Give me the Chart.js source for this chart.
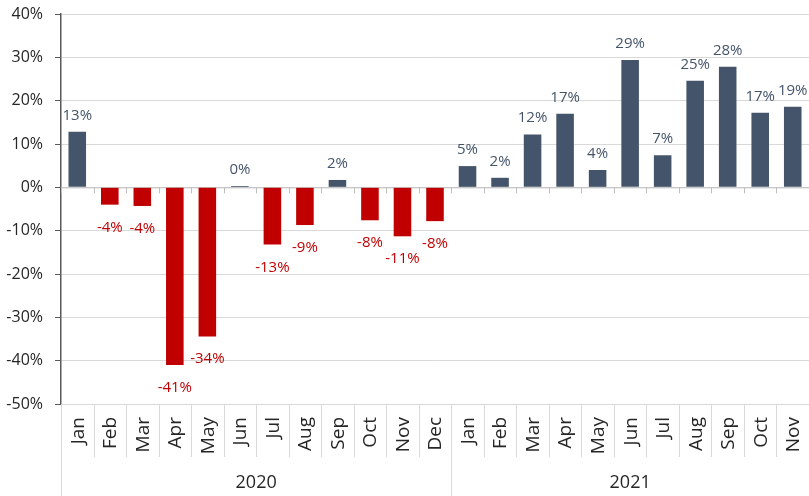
<!DOCTYPE html>
<html>
<head>
<meta charset="utf-8">
<script src="https://cdn.jsdelivr.net/npm/chart.js@4/dist/chart.umd.min.js"></script>
<style>
  html, body { margin: 0; padding: 0; background: #fff; }
  #wrap { width: 809px; height: 496px; }
</style>
</head>
<body>
<div id="wrap"><canvas id="chart" width="809" height="496"></canvas></div>
<script>
// monthly change, in percent
const months = ['Jan', 'Feb', 'Mar', 'Apr', 'May', 'Jun', 'Jul', 'Aug', 'Sep', 'Oct', 'Nov', 'Dec',
                'Jan', 'Feb', 'Mar', 'Apr', 'May', 'Jun', 'Jul', 'Aug', 'Sep', 'Oct', 'Nov'];
const years = ['2020', '2021'];
const monthsPerYear = [12, 11];
const values = [12.8, -4.0, -4.3, -41.0, -34.4, 0.3, -13.2, -8.7, 1.7, -7.6, -11.3, -7.8,
                4.9, 2.2, 12.2, 17.0, 4.0, 29.4, 7.4, 24.6, 27.8, 17.2, 18.6];
const yTicks = [-50, -40, -30, -20, -10, 0, 10, 20, 30, 40];

const POS = '#44546A';
const NEG = '#C00000';
const FONT = "'Open Sans', 'Noto Sans', sans-serif";

const axisPlugin = {
    id: 'excelAxis',
    beforeDatasetsDraw(chart) {
        const { ctx, chartArea, scales } = chart;
        const y0 = scales.y.getPixelForValue(0);
        const w = (chartArea.right - chartArea.left) / months.length;
        ctx.save();
        ctx.strokeStyle = '#BFBFBF';
        ctx.lineWidth = 1;
        ctx.beginPath();
        ctx.moveTo(chartArea.left, y0 + 0.5);
        ctx.lineTo(chartArea.right, y0 + 0.5);
        for (let i = 0; i <= months.length; i++) {
            const x = Math.round(chartArea.left + i * w) + 0.5;
            ctx.moveTo(x, y0);
            ctx.lineTo(x, y0 + 6);
        }
        ctx.stroke();
        ctx.restore();
    },
    afterDatasetsDraw(chart) {
        const { ctx, chartArea } = chart;
        const meta = chart.getDatasetMeta(0);
        ctx.save();
        // value labels
        ctx.font = '15px ' + FONT;
        ctx.textAlign = 'center';
        ctx.textBaseline = 'alphabetic';
        meta.data.forEach((bar, i) => {
            const v = values[i];
            const txt = Math.round(v) + '%';
            if (v >= 0) {
                ctx.fillStyle = POS;
                ctx.fillText(txt, bar.x, bar.y - 12);
            } else {
                ctx.fillStyle = NEG;
                ctx.fillText(txt, bar.x, bar.y + 27);
            }
        });

        // category axis below the plot
        const w = (chartArea.right - chartArea.left) / months.length;
        const bottom = chartArea.bottom;
        const H = chart.height;
        const yearEdges = [0];
        monthsPerYear.forEach(n => yearEdges.push(yearEdges[yearEdges.length - 1] + n));

        ctx.strokeStyle = '#D9D9D9';
        ctx.lineWidth = 1;
        ctx.beginPath();
        for (let i = 0; i <= months.length; i++) {
            const x = Math.round(chartArea.left + i * w) + 0.5;
            const isYear = yearEdges.includes(i);
            ctx.moveTo(x, bottom);
            ctx.lineTo(x, isYear ? H : bottom + 53);
        }
        ctx.stroke();

        ctx.fillStyle = '#262626';
        ctx.font = '19px ' + FONT;
        ctx.textAlign = 'right';
        ctx.textBaseline = 'middle';
        months.forEach((m, i) => {
            const x = chartArea.left + (i + 0.5) * w;
            ctx.save();
            ctx.translate(x + 1, bottom + 13);
            ctx.rotate(-Math.PI / 2);
            ctx.fillText(m, 0, 0);
            ctx.restore();
        });

        ctx.font = '18px ' + FONT;
        ctx.textAlign = 'center';
        ctx.textBaseline = 'middle';
        years.forEach((yr, k) => {
            const x1 = chartArea.left + yearEdges[k] * w;
            const x2 = chartArea.left + yearEdges[k + 1] * w;
            ctx.fillText(yr, (x1 + x2) / 2, bottom + 79);
        });
        ctx.restore();
    }
};

new Chart(document.getElementById('chart'), {
    type: 'bar',
    data: {
        labels: months,
        datasets: [{
            data: values,
            backgroundColor: values.map(v => v >= 0 ? POS : NEG),
            borderWidth: 0,
            categoryPercentage: 1,
            barPercentage: 0.54
        }]
    },
    options: {
        responsive: false,
        animation: false,
        layout: { padding: { top: 14, right: 0, bottom: 0, left: 0 } },
        plugins: {
            legend: { display: false },
            tooltip: { enabled: false }
        },
        scales: {
            x: {
                grid: { display: false },
                border: { display: false },
                ticks: { display: false },
                afterFit: (scale) => { scale.height = 92; }
            },
            y: {
                min: yTicks[0],
                max: yTicks[yTicks.length - 1],
                afterBuildTicks: (scale) => { scale.ticks = yTicks.map(v => ({ value: v })); },
                ticks: {
                    padding: 12,
                    color: '#262626',
                    font: { family: FONT, size: 16 },
                    callback: (v) => v + '%'
                },
                grid: {
                    color: '#D9D9D9',
                    tickColor: '#595959',
                    tickLength: 6,
                    lineWidth: 1
                },
                border: { color: '#595959', width: 1.5 },
                afterFit: (scale) => {
                    scale.width = 61;
                    scale.paddingTop = 0;
                    scale.paddingBottom = 0;
                }
            }
        }
    },
    plugins: [axisPlugin]
});
</script>
</body>
</html>
